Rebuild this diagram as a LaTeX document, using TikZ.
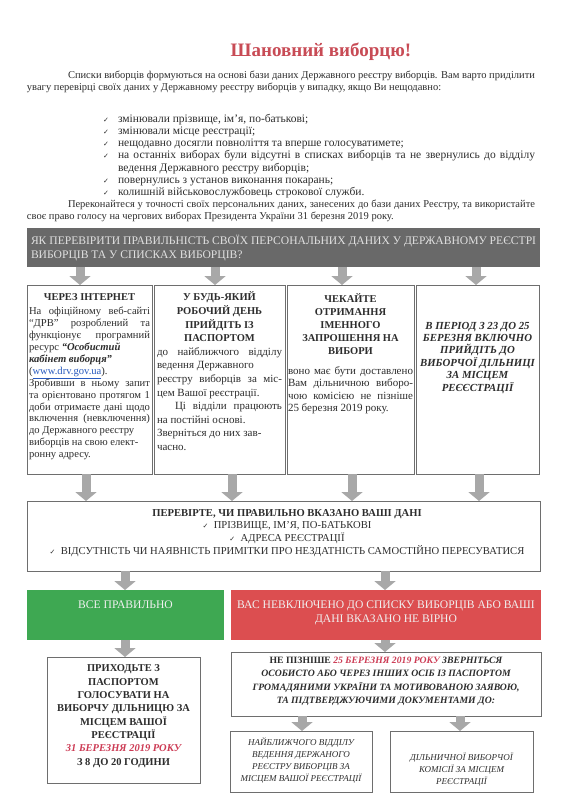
\documentclass[tikz,border=0pt]{standalone}
\usepackage{fontspec}
\setmainfont{Liberation Serif}
\newfontfamily\symfont{DejaVu Sans}
\usetikzlibrary{arrows.meta}
\definecolor{txt}{RGB}{45,45,45}
\definecolor{titlered}{RGB}{200,75,85}
\definecolor{bannergray}{RGB}{105,105,105}
\definecolor{bannertext}{RGB}{225,225,225}
\definecolor{arrowgray}{RGB}{168,168,168}
\definecolor{boxline}{RGB}{110,110,110}
\definecolor{okgreen}{RGB}{62,168,82}
\definecolor{badred}{RGB}{220,78,80}
\definecolor{datered}{RGB}{205,60,85}
\definecolor{linkblue}{RGB}{40,90,190}
\definecolor{lighttext}{RGB}{240,240,240}
\newcommand{\chk}{{\symfont\fontsize{7}{7}\selectfont ✓}}
\newcommand{\vitem}{\par\hangindent=15pt\hangafter=1\noindent\makebox[15pt][l]{\chk}}
\begin{document}
\begin{tikzpicture}[x=1pt,y=-1pt,
  every node/.style={inner sep=0pt,outer sep=0pt,text=txt},
  frame/.style={draw=boxline,line width=0.8pt,fill=white,anchor=north west},
  blockarrow/.style={arrowgray,line width=9pt,-{Triangle[width=21pt,length=9pt]}},
  para/.style={anchor=north west,align=justify,font=\fontsize{10.5}{12.5}\selectfont},
  coltext/.style={anchor=north,align=justify,font=\fontsize{10.6}{11.9}\selectfont},
  ctext/.style={anchor=north,align=center},
]
\fill[white] (0,0) rectangle (565,800);
\useasboundingbox (0,0) rectangle (565,800);

% title
\node[font=\fontsize{19}{21}\selectfont\bfseries,text=titlered] (title) at (321,52) {Шановний виборцю!};

\node[para,text width=508] (intro) at (27,70.5) {\hspace*{41pt}Списки виборців формуються на основі бази даних Державного реєстру виборців. Вам варто приділити\linebreak увагу перевірці своїх даних у Державному реєстру виборців у випадку, якщо Ви нещодавно:};

\node[para,text width=432,font=\fontsize{11.5}{12.2}\selectfont] (bullets) at (103,110) {%
\vitem змінювали прізвище, ім’я, по-батькові;
\vitem змінювали місце реєстрації;
\vitem нещодавно досягли повноліття та вперше голосуватимете;
\vitem на останніх виборах були відсутні в списках виборців та не звернулись до відділу ведення Державного реєстру виборців;
\vitem повернулись з установ виконання покарань;
\vitem колишній військовослужбовець строкової служби.};

\node[para,text width=508] (persuade) at (27,199.5) {\hspace*{41pt}Переконайтеся у точності своїх персональних даних, занесених до бази даних Реєстру, та використайте\linebreak своє право голосу на чергових виборах Президента України 31 березня 2019 року.};

% banner
\node[fill=bannergray,minimum width=513,minimum height=39,anchor=north west] (banner) at (27,228) {};
\node[anchor=north west,text=bannertext,align=left,font=\fontsize{11.6}{14}\selectfont] (bannertxt) at (31,235) {ЯК ПЕРЕВІРИТИ ПРАВИЛЬНІСТЬ СВОЇХ ПЕРСОНАЛЬНИХ ДАНИХ У ДЕРЖАВНОМУ РЕЄСТРІ\\ВИБОРЦІВ ТА У СПИСКАХ ВИБОРЦІВ?};

% four column frames
\node[frame,minimum width=125,minimum height=189] (b1) at (27,285) {};
\node[frame,minimum width=131,minimum height=189] (b2) at (154,285) {};
\node[frame,minimum width=127,minimum height=189] (b3) at (287,285) {};
\node[frame,minimum width=123,minimum height=189] (b4) at (416,285) {};

\node[coltext,text width=121] (t1) at (89.5,294) {{\centering\bfseries\fontsize{10.5}{11.9}\selectfont ЧЕРЕЗ ІНТЕРНЕТ\par}\vspace{2pt}На офіційному веб-сайті\linebreak “ДРВ” розроблений та\linebreak функціонує програмний\linebreak ресурс \textbf{\textit{“Особистий}}\\ \textbf{\textit{кабінет виборця”}}\\ (\textcolor{linkblue}{\underline{www.drv.gov.ua}}).\\ Зробивши в ньому запит\linebreak та орієнтовано протягом 1\linebreak доби отримаєте дані щодо\linebreak включення (невключення)\linebreak до Державного реєстру\\ виборців на свою елект-\\ ронну адресу.};

\node[coltext,text width=125,font=\fontsize{11}{13.6}\selectfont] (t2) at (219.5,292) {{\centering\bfseries\fontsize{10.5}{13.6}\selectfont У БУДЬ-ЯКИЙ\\РОБОЧИЙ ДЕНЬ\\ПРИЙДІТЬ ІЗ\\ПАСПОРТОМ\par}до найближчого відділу\linebreak ведення Державного\\ реєстру виборців за міс-\linebreak цем Вашої реєстрації.\\ \hspace*{18pt}Ці відділи працюють\linebreak на постійні основі.\\ Зверніться до них зав-\\ часно.};

\node[coltext,text width=125,font=\fontsize{11}{12.5}\selectfont] (t3) at (350.5,294) {{\centering\bfseries\fontsize{10.5}{13}\selectfont ЧЕКАЙТЕ\\ОТРИМАННЯ\\ІМЕННОГО\\ЗАПРОШЕННЯ НА\\ВИБОРИ\par}\vspace{7pt}воно має бути доставлено\linebreak Вам дільничною виборо-\linebreak чою комісією не пізніше\linebreak 25 березня 2019 року.};

\node[ctext,font=\fontsize{10.8}{12.4}\selectfont\bfseries\itshape] (t4) at (477.5,322) {В ПЕРІОД З 23 ДО 25\\БЕРЕЗНЯ ВКЛЮЧНО\\ПРИЙДІТЬ ДО\\ВИБОРЧОЇ ДІЛЬНИЦІ\\ЗА МІСЦЕМ\\РЕЄЄСТРАЦІЇ};

% check box
\node[frame,minimum width=513,minimum height=70] (check) at (27,501) {};
\node[ctext,font=\fontsize{10.6}{12.8}\selectfont] (checktxt) at (287,509) {\textbf{ПЕРЕВІРТЕ, ЧИ ПРАВИЛЬНО ВКАЗАНО ВАШІ ДАНІ}\\\chk\ \ ПРІЗВИЩЕ, ІМ’Я, ПО-БАТЬКОВІ\\\chk\ \ АДРЕСА РЕЄСТРАЦІЇ\\\chk\ \ ВІДСУТНІСТЬ ЧИ НАЯВНІСТЬ ПРИМІТКИ ПРО НЕЗДАТНІСТЬ САМОСТІЙНО ПЕРЕСУВАТИСЯ};

% green / red
\node[fill=okgreen,minimum width=197,minimum height=50,anchor=north west] (green) at (27,590) {};
\node[ctext,text=lighttext,font=\fontsize{11.6}{14}\selectfont] (greentxt) at (125.5,601) {ВСЕ ПРАВИЛЬНО};
\node[fill=badred,minimum width=310,minimum height=50,anchor=north west] (red) at (231,590) {};
\node[ctext,text=lighttext,font=\fontsize{11.6}{14}\selectfont] (redtxt) at (386,601) {ВАС НЕВКЛЮЧЕНО ДО СПИСКУ ВИБОРЦІВ АБО ВАШІ\\ДАНІ ВКАЗАНО НЕ ВІРНО};

% bottom left
\node[frame,minimum width=153,minimum height=126] (come) at (47,657) {};
\node[ctext,font=\fontsize{10.5}{13.3}\selectfont\bfseries] (cometxt) at (123.5,665) {ПРИХОДЬТЕ З\\ПАСПОРТОМ\\ГОЛОСУВАТИ НА\\ВИБОРЧУ ДІЛЬНИЦЮ ЗА\\МІСЦЕМ ВАШОЇ\\РЕЄСТРАЦІЇ\\\textcolor{datered}{\itshape 31 БЕРЕЗНЯ 2019 РОКУ}\\З 8 ДО 20 ГОДИНИ};

% bottom right
\node[frame,minimum width=310,minimum height=64] (apply) at (231,652) {};
\node[ctext,font=\fontsize{9.7}{13.5}\selectfont\bfseries] (applytxt) at (386,657) {НЕ ПІЗНІШЕ {\itshape\textcolor{datered}{25 БЕРЕЗНЯ 2019 РОКУ} ЗВЕРНІТЬСЯ}\\\itshape ОСОБИСТО АБО ЧЕРЕЗ ІНШИХ ОСІБ ІЗ ПАСПОРТОМ\\\itshape ГРОМАДЯНИМИ УКРАЇНИ ТА МОТИВОВАНОЮ ЗАЯВОЮ,\\\itshape ТА ПІДТВЕРДЖУЮЧИМИ ДОКУМЕНТАМИ ДО:};

\node[frame,minimum width=142,minimum height=61] (boxa) at (230,731) {};
\node[ctext,font=\fontsize{9}{11.8}\selectfont\itshape] (boxatxt) at (301,738) {НАЙБЛИЖЧОГО ВІДДІЛУ\\ВЕДЕННЯ ДЕРЖАНОГО\\РЕЄСТРУ ВИБОРЦІВ ЗА\\МІСЦЕМ ВАШОЇ РЕЄСТРАЦІЇ};
\node[frame,minimum width=143,minimum height=61] (boxb) at (390,731) {};
\node[ctext,font=\fontsize{9}{11.8}\selectfont\itshape] (boxbtxt) at (461.5,753) {ДІЛЬНИЧНОЇ ВИБОРЧОЇ\\КОМІСІЇ ЗА МІСЦЕМ\\РЕЄСТРАЦІЇ};

% arrow columns
\coordinate (xa1) at (80,0);
\coordinate (xa2) at (215,0);
\coordinate (xa3) at (342,0);
\coordinate (xa4) at (476,0);
\coordinate (xb1) at (86,0);
\coordinate (xb2) at (232,0);
\coordinate (xb3) at (352,0);
\coordinate (xb4) at (479,0);
\coordinate (xg) at (125,0);
\coordinate (xr) at (385,0);
\coordinate (xA) at (302,0);
\coordinate (xB) at (460,0);

\draw[blockarrow] (banner.south -| xa1) -- (b1.north -| xa1);
\draw[blockarrow] (banner.south -| xa2) -- (b2.north -| xa2);
\draw[blockarrow] (banner.south -| xa3) -- (b3.north -| xa3);
\draw[blockarrow] (banner.south -| xa4) -- (b4.north -| xa4);
\draw[blockarrow] (b1.south -| xb1) -- (check.north -| xb1);
\draw[blockarrow] (b2.south -| xb2) -- (check.north -| xb2);
\draw[blockarrow] (b3.south -| xb3) -- (check.north -| xb3);
\draw[blockarrow] (b4.south -| xb4) -- (check.north -| xb4);
\draw[blockarrow] (check.south -| xg) -- (green.north -| xg);
\draw[blockarrow] (check.south -| xr) -- (red.north -| xr);
\draw[blockarrow] (green.south -| xg) -- (come.north -| xg);
\draw[blockarrow] (red.south -| xr) -- (apply.north -| xr);
\draw[blockarrow] (apply.south -| xA) -- (boxa.north -| xA);
\draw[blockarrow] (apply.south -| xB) -- (boxb.north -| xB);
\end{tikzpicture}
\end{document}
